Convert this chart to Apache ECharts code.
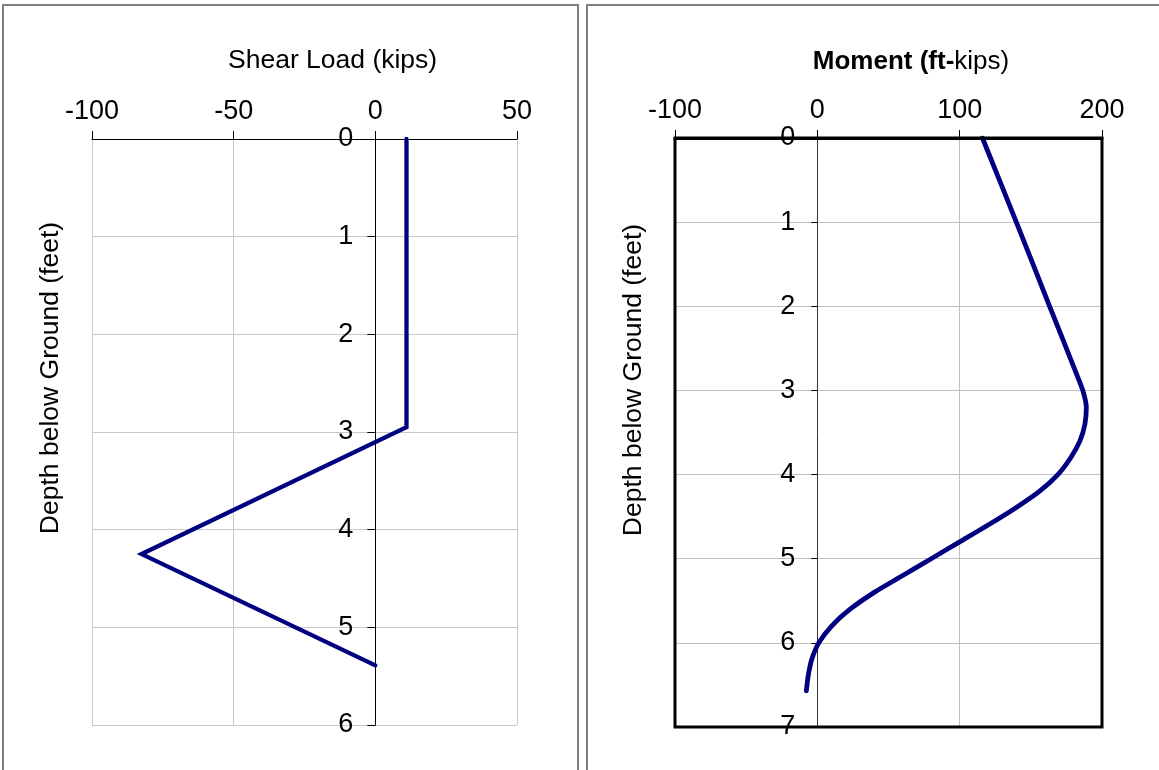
<!DOCTYPE html>
<html>
<head>
<meta charset="utf-8">
<script src="https://cdn.jsdelivr.net/npm/echarts@6/dist/echarts.min.js"></script>
<style>
html,body{margin:0;padding:0;background:#fff;}
#chart{width:1159px;height:770px;}
</style>
</head>
<body>
<div id="chart"></div>
<script>
// Shear load diagram (kips vs depth in feet)
const shearDepth = [0, 2.95, 4.25, 5.39];
const shearLoad = [11, 11, -82.5, 0];

// Moment diagram (ft-kips vs depth in feet)
const momentDepth = [0, 1, 2, 2.8, 3.0, 3.2, 3.4, 3.6, 3.8, 4.0, 4.2, 4.4, 4.6, 4.8, 5.0, 5.2, 5.4, 5.6, 5.8, 6.0, 6.2, 6.4, 6.57];
const momentValue = [116, 139.8, 163.2, 182, 186.5, 189, 188, 184.5, 178, 169, 156, 139, 120, 100, 80, 60, 40, 23, 10, 1, -4, -6.5, -7.7];

// Axis definitions
const shearTicks = {min: -100, max: 50, interval: 50};
const momentTicks = {min: -100, max: 200, interval: 100};
const shearDepthTicks = {min: 0, max: 6, interval: 1};
const momentDepthTicks = {min: 0, max: 7, interval: 1};

const titleShear = 'Shear Load (kips)';
const titleMomentBold = 'Moment (ft-';
const titleMomentNormal = 'kips)';
const depthName = 'Depth below Ground (feet)';

const FONT = '"Liberation Sans", Arial, sans-serif';
const navy = '#000080';

const chart = echarts.init(document.getElementById('chart'), null, {renderer: 'canvas'});

const pair = (xs, ys) => xs.map((x, i) => [x, ys[i]]);

const G0 = {left: 92, top: 139, width: 425, height: 586};
const G1 = {left: 675, top: 138, width: 427, height: 589};
// place each depth axis at x = 0 of its value axis
const off0 = -G0.width * (0 - shearTicks.min) / (shearTicks.max - shearTicks.min);
const off1 = -G1.width * (0 - momentTicks.min) / (momentTicks.max - momentTicks.min);

const option = {
  animation: false,
  backgroundColor: '#ffffff',
  grid: [
    Object.assign({show: false}, G0),
    Object.assign({show: false}, G1)
  ],
  xAxis: [
    {
      gridIndex: 0, type: 'value', position: 'top',
      min: shearTicks.min, max: shearTicks.max, interval: shearTicks.interval,
      axisLine: {show: true, onZero: false, lineStyle: {color: '#000', width: 1}},
      axisTick: {show: true, inside: false, length: 8, lineStyle: {color: '#000'}},
      axisLabel: {show: true, margin: 14, color: '#000', fontSize: 27, fontFamily: FONT},
      splitLine: {show: true, lineStyle: {color: '#c8c8c8', width: 1}}
    },
    {
      gridIndex: 1, type: 'value', position: 'top',
      min: momentTicks.min, max: momentTicks.max, interval: momentTicks.interval,
      axisLine: {show: true, onZero: false, lineStyle: {color: '#000', width: 3}},
      axisTick: {show: true, inside: false, length: 8, lineStyle: {color: '#000', width: 1}},
      axisLabel: {show: true, margin: 14, color: '#000', fontSize: 27, fontFamily: FONT},
      splitLine: {show: true, lineStyle: {color: '#c0c0c0', width: 1}}
    }
  ],
  yAxis: [
    {
      gridIndex: 0, type: 'value', inverse: true, position: 'left', offset: off0,
      min: shearDepthTicks.min, max: shearDepthTicks.max, interval: shearDepthTicks.interval,
      axisLine: {show: true, onZero: false, lineStyle: {color: '#000', width: 1}},
      axisTick: {show: true, inside: false, length: 8, lineStyle: {color: '#000'}},
      axisLabel: {show: true, margin: 22, color: '#000', fontSize: 27, fontFamily: FONT},
      splitLine: {show: true, lineStyle: {color: '#c8c8c8', width: 1}}
    },
    {
      gridIndex: 1, type: 'value', inverse: true, position: 'left', offset: off1,
      min: momentDepthTicks.min, max: momentDepthTicks.max, interval: momentDepthTicks.interval,
      axisLine: {show: true, onZero: false, lineStyle: {color: '#333', width: 1}},
      axisTick: {show: true, inside: false, length: 6, lineStyle: {color: '#000'}},
      axisLabel: {show: true, margin: 22, color: '#000', fontSize: 27, fontFamily: FONT},
      splitLine: {show: true, lineStyle: {color: '#c0c0c0', width: 1}}
    }
  ],
  series: [
    {
      type: 'line', xAxisIndex: 0, yAxisIndex: 0,
      data: pair(shearLoad, shearDepth),
      showSymbol: false, symbol: 'none',
      lineStyle: {color: navy, width: 4.3, cap: 'round', join: 'miter'},
      z: 5
    },
    {
      type: 'line', xAxisIndex: 1, yAxisIndex: 1,
      data: pair(momentValue, momentDepth),
      showSymbol: false, symbol: 'none', smooth: 0.25,
      lineStyle: {color: navy, width: 4.8, cap: 'round', join: 'round'},
      z: 5
    }
  ],
  graphic: [
    {type: 'polyline', shape: {points: [[3, 775], [3, 5], [578, 5], [578, 775]]}, style: {stroke: '#808080', lineWidth: 2, fill: null}, silent: true},
    {type: 'polyline', shape: {points: [[587, 775], [587, 5], [1165, 5]]}, style: {stroke: '#808080', lineWidth: 2, fill: null}, silent: true},
    {type: 'rect', shape: {x: G1.left, y: G1.top, width: G1.width, height: G1.height}, style: {stroke: '#000', lineWidth: 3, fill: null}, z: 50, silent: true},
    {type: 'text', left: 228, top: 47, style: {text: titleShear, font: '26.5px ' + FONT, fill: '#000'}, silent: true},
    {type: 'text', x: 911, y: 62, style: {
      text: '{b|' + titleMomentBold + '}{n|' + titleMomentNormal + '}',
      rich: {
        b: {fontSize: 26, fontWeight: 'bold', fontFamily: FONT, fill: '#000', color: '#000'},
        n: {fontSize: 26, fontWeight: 'normal', fontFamily: FONT, fill: '#000', color: '#000'}
      },
      align: 'center', verticalAlign: 'middle', textAlign: 'center', textVerticalAlign: 'middle'
    }, silent: true},
    {type: 'text', x: 51, y: 378, rotation: Math.PI / 2, style: {text: depthName, font: '26.5px ' + FONT, fill: '#000', textAlign: 'center', textVerticalAlign: 'middle', align: 'center', verticalAlign: 'middle'}, silent: true},
    {type: 'text', x: 634, y: 380, rotation: Math.PI / 2, style: {text: depthName, font: '26.5px ' + FONT, fill: '#000', textAlign: 'center', textVerticalAlign: 'middle', align: 'center', verticalAlign: 'middle'}, silent: true}
  ]
};

chart.setOption(option);
</script>
</body>
</html>
